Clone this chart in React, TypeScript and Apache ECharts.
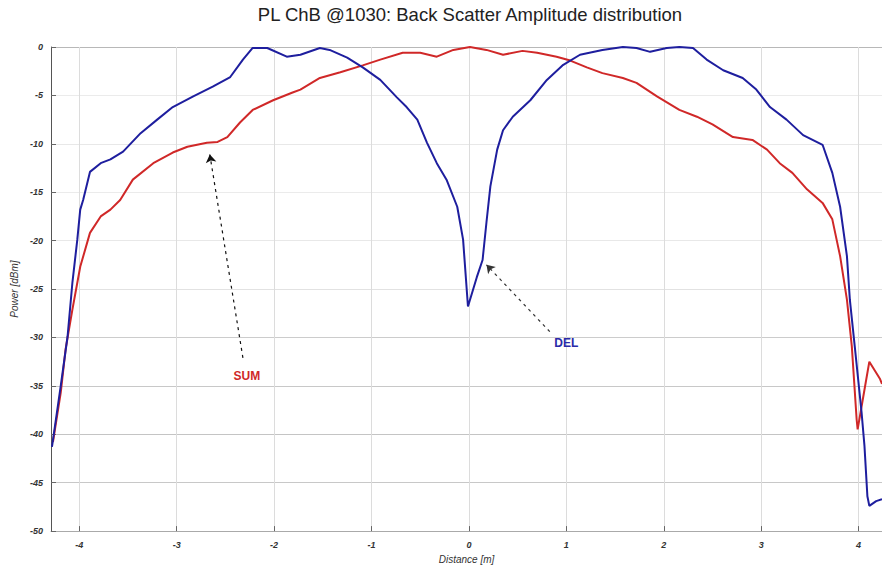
import React, { useEffect, useRef } from "react";
import * as echarts from "echarts";

const TITLE = "PL ChB @1030: Back Scatter Amplitude distribution";
const X_NAME = "Distance [m]";
const Y_NAME = "Power [dBm]";

const delX = [-4.28, -4.19, -4.12, -4.07, -4.02, -3.99, -3.96, -3.89, -3.78, -3.68, -3.55, -3.37, -3.2, -3.04, -2.83, -2.63, -2.45, -2.32, -2.22, -2.07, -1.87, -1.73, -1.53, -1.43, -1.25, -1.09, -0.91, -0.74, -0.64, -0.53, -0.43, -0.33, -0.23, -0.12, -0.06, -0.01, 0.08, 0.14, 0.18, 0.22, 0.29, 0.35, 0.45, 0.63, 0.8, 0.96, 1.14, 1.37, 1.58, 1.72, 1.86, 2.03, 2.16, 2.3, 2.44, 2.61, 2.81, 2.95, 3.09, 3.26, 3.43, 3.63, 3.73, 3.81, 3.88, 3.91, 3.96, 4.03, 4.06, 4.09, 4.11, 4.18, 4.24];
const delY = [-41.3, -35, -29.9, -24.3, -19.9, -16.8, -15.8, -12.9, -12.0, -11.6, -10.8, -8.9, -7.5, -6.2, -5.1, -4.1, -3.1, -1.3, -0.1, -0.1, -1.0, -0.8, -0.1, -0.3, -1.1, -2.1, -3.4, -5.2, -6.2, -7.5, -9.9, -12.0, -13.7, -16.5, -19.9, -26.8, -23.8, -22.0, -18.1, -14.4, -10.6, -8.6, -7.2, -5.5, -3.4, -1.9, -0.8, -0.3, 0, -0.1, -0.5, -0.1, 0, -0.1, -1.3, -2.4, -3.2, -4.4, -6.2, -7.5, -9.1, -10.1, -13.0, -16.5, -21.6, -26.1, -30.9, -37.7, -41.2, -46.4, -47.4, -46.9, -46.7];

const sumX = [-4.27, -4.19, -4.14, -4.07, -3.99, -3.89, -3.78, -3.68, -3.58, -3.45, -3.24, -3.04, -2.89, -2.69, -2.58, -2.48, -2.35, -2.22, -2.01, -1.81, -1.73, -1.53, -1.32, -1.09, -0.91, -0.68, -0.5, -0.33, -0.16, 0.01, 0.18, 0.35, 0.55, 0.7, 0.9, 1.04, 1.21, 1.37, 1.58, 1.72, 1.93, 2.16, 2.34, 2.5, 2.71, 2.91, 3.06, 3.19, 3.32, 3.47, 3.63, 3.73, 3.81, 3.88, 3.93, 3.98, 3.99, 4.06, 4.11, 4.22, 4.24];
const sumY = [-40.8, -35.7, -31.2, -27.1, -22.7, -19.2, -17.5, -16.8, -15.8, -13.7, -12.0, -10.9, -10.3, -9.9, -9.8, -9.3, -7.8, -6.5, -5.5, -4.7, -4.4, -3.2, -2.6, -1.9, -1.3, -0.6, -0.6, -1.0, -0.3, 0, -0.3, -0.8, -0.4, -0.6, -1.0, -1.4, -2.1, -2.7, -3.2, -3.7, -5.1, -6.5, -7.2, -8.0, -9.3, -9.6, -10.6, -12.0, -13.0, -14.7, -16.1, -17.8, -21.6, -26.1, -30.9, -38.5, -39.5, -35.4, -32.5, -34.3, -34.8];

// annotations: label position, arrow tail, arrow head (data coordinates)
const sumLabel = { name: "SUM", at: [-2.28, -34.0], tail: [-2.32, -32.1], head: [-2.66, -11.1] };
const delLabel = { name: "DEL", at: [1.0, -30.6], tail: [0.83, -29.4], head: [0.18, -22.5] };

const X_MIN = -4.29;
const X_MAX = 4.24;
const Y_MIN = -50;
const Y_MAX = 0;

const BLUE = "#1e1e9e";
const RED = "#d02828";

function zip(xs: number[], ys: number[]) {
  return xs.map((x, i) => [x, ys[i]]);
}

function arrow(a: { tail: number[]; head: number[] }) {
  return [{ coord: a.tail }, { coord: a.head }];
}

export default function App() {
  const ref = useRef<HTMLDivElement>(null);
  useEffect(() => {
    if (!ref.current) return;
    const chart = echarts.init(ref.current, undefined, { renderer: "svg" });
    const labelFont = {
      fontFamily: "Liberation Sans, Arial, sans-serif",
      fontStyle: "italic",
      fontWeight: "bold",
      fontSize: 9,
      color: "#333",
    };
    const annot = (color: string, lab: { name: string; at: number[]; tail: number[]; head: number[] }, labColor: string) => ({
      markLine: {
        silent: true,
        symbol: ["none", "arrow"],
        symbolSize: 8,
        lineStyle: { color, type: [3, 4], width: 1.2 },
        itemStyle: { color: "#111" },
        label: { show: false },
        data: [arrow(lab)],
      },
      markPoint: {
        silent: true,
        symbol: "circle",
        symbolSize: 0,
        label: {
          show: true,
          position: "inside",
          formatter: lab.name,
          fontFamily: "Liberation Sans, Arial, sans-serif",
          fontWeight: "bold",
          fontSize: 12,
          color: labColor,
        },
        data: [{ coord: lab.at }],
      },
    });
    chart.setOption({
      animation: false,
      backgroundColor: "#ffffff",
      title: {
        text: TITLE,
        left: 470,
        textAlign: "center",
        top: 5,
        padding: 0,
        textStyle: {
          fontFamily: "Liberation Sans, Arial, sans-serif",
          fontSize: 18.5,
          fontWeight: "normal",
          color: "#222",
        },
      },
      grid: { left: 51, right: 0, top: 47, bottom: 37 },
      xAxis: {
        type: "value",
        min: X_MIN,
        max: X_MAX,
        splitNumber: 9,
        name: X_NAME,
        nameLocation: "middle",
        nameGap: 22,
        nameTextStyle: { ...labelFont, fontSize: 10, fontWeight: "normal" },
        axisLine: { show: true, onZero: false, lineStyle: { color: "#aaa" } },
        axisTick: { show: true, inside: true, length: 5, lineStyle: { color: "#666" } },
        axisLabel: { ...labelFont, margin: 9, showMinLabel: false, showMaxLabel: false },
        splitLine: { show: true, lineStyle: { color: "#dcdcdc", width: 1 } },
      },
      yAxis: {
        type: "value",
        min: Y_MIN,
        max: Y_MAX,
        interval: 5,
        name: Y_NAME,
        nameLocation: "middle",
        nameGap: 21,
        nameTextStyle: { ...labelFont, fontSize: 10, fontWeight: "normal" },
        axisLine: { show: true, onZero: false, lineStyle: { color: "#555" } },
        axisTick: { show: true, inside: true, length: 5, lineStyle: { color: "#666" } },
        axisLabel: { ...labelFont, margin: 8 },
        splitLine: {
          show: true,
          lineStyle: {
            color: ["#c4c4c4", "#c8c8c8", "#c4c4c4", "#c8c8c8", "#cccccc", "#e2e2e2", "#e8e8e8", "#ebebeb", "#e8e8e8", "#ebebeb", "#b8b8b8"],
            width: 1,
          },
        },
      },
      series: [
        {
          name: "SUM",
          type: "line",
          data: zip(sumX, sumY),
          showSymbol: false,
          symbol: "none",
          lineStyle: { color: RED, width: 2 },
          itemStyle: { color: RED },
          z: 3,
          ...annot("#111", sumLabel, RED),
        },
        {
          name: "DEL",
          type: "line",
          data: zip(delX, delY),
          showSymbol: false,
          symbol: "none",
          lineStyle: { color: BLUE, width: 2 },
          itemStyle: { color: BLUE },
          z: 4,
          ...annot("#333", delLabel, "#2a2aa8"),
        },
      ],
    });
    return () => chart.dispose();
  }, []);
  return <div ref={ref} style={{ width: 882, height: 569, position: "absolute", left: 0, top: 0 }} />;
}
